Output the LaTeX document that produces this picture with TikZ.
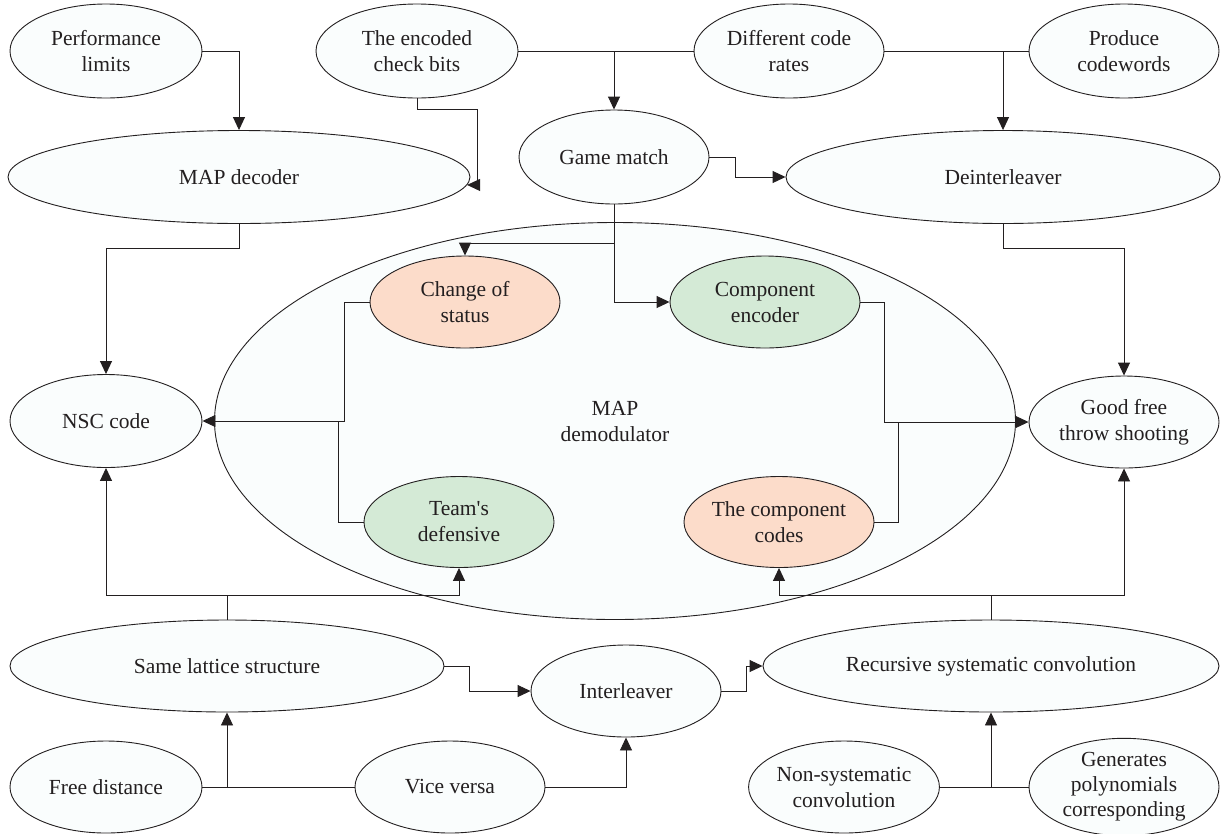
\documentclass[tikz,border=0pt]{standalone}
\usepackage{fontspec}
\setmainfont{Liberation Serif}
\usetikzlibrary{arrows.meta,calc,shapes.geometric}
\definecolor{ink}{HTML}{231F20}
\definecolor{paper}{HTML}{FAFDFD}
\definecolor{peach}{HTML}{FCDCCA}
\definecolor{mint}{HTML}{D4EAD6}
\tikzset{
  oval/.style={ellipse, draw=ink, line width=0.9pt, fill=paper, inner sep=0pt,
    align=center, text=ink, font=\fontsize{21.5}{26}\selectfont},
  ovalpeach/.style={oval, fill=peach},
  ovalmint/.style={oval, fill=mint},
  wire/.style={draw=ink, line width=0.9pt},
  arr/.style={wire, -{Triangle[length=13pt,width=12pt]}},
}
\begin{document}
\begin{tikzpicture}[x=1pt,y=-1pt]
\useasboundingbox (0,0) rectangle (1222,833);

% big container
\node[oval, minimum width=801pt, minimum height=397pt] (demod) at (615,421) {MAP\\demodulator};

% top row
\node[oval, minimum width=192pt, minimum height=94pt] (perf) at (106,51) {Performance\\limits};
\node[oval, minimum width=202pt, minimum height=94pt] (check) at (417,51) {The encoded\\check bits};
\node[oval, minimum width=190pt, minimum height=94pt] (rates) at (789,51) {Different code\\rates};
\node[oval, minimum width=190pt, minimum height=94pt] (produce) at (1124,51) {Produce\\codewords};

% second row
\node[oval, minimum width=462pt, minimum height=93pt] (mapdec) at (239,177) {MAP decoder};
\node[oval, minimum width=190pt, minimum height=94pt] (game) at (614,157) {Game match};
\node[oval, minimum width=434pt, minimum height=93pt] (deint) at (1003,177) {Deinterleaver};

% inside the container
\node[ovalpeach, minimum width=190pt, minimum height=92pt] (change) at (465,302) {Change of\\status};
\node[ovalmint, minimum width=190pt, minimum height=92pt] (compenc) at (765,302) {Component\\encoder};
\node[ovalmint, minimum width=190pt, minimum height=91pt] (team) at (459,522) {Team\textquotesingle s\\defensive};
\node[ovalpeach, minimum width=190pt, minimum height=91pt] (codes) at (779,522) {The component\\codes};

% middle sides
\node[oval, minimum width=192pt, minimum height=93pt] (nsc) at (106,421) {NSC code};
\node[oval, minimum width=190pt, minimum height=92pt] (good) at (1124,422) {Good free\\throw shooting};

% lower rows
\node[oval, minimum width=434pt, minimum height=92pt] (lattice) at (227,666) {Same lattice structure};
\node[oval, minimum width=190pt, minimum height=92pt] (inter) at (626,691) {Interleaver};
\node[oval, minimum width=456pt, minimum height=92pt] (rsc) at (991,666) {Recursive systematic convolution};
\node[oval, minimum width=192pt, minimum height=92pt] (free) at (106,787) {Free distance};
\node[oval, minimum width=190pt, minimum height=92pt] (vice) at (450,787) {Vice versa};
\node[oval, minimum width=190pt, minimum height=92pt] (nonsys) at (844,787) {Non-systematic\\convolution};
\node[oval, minimum width=190pt, minimum height=92pt, font=\fontsize{21.5}{25}\selectfont] (gen) at (1124,787) {Generates\\polynomials\\corresponding};

% connectors, top part
\draw[arr] (perf.east) -| (mapdec.north);
\draw[arr] (check.south) -- ++(0,11) -| ([xshift=10pt]mapdec.-2) -- (mapdec.-2);
\draw[wire] (check.east) -- (rates.west);
\draw[arr] (check.east -| game.north) -- (game.north);
\draw[wire] (rates.east) -- (produce.west);
\draw[arr] (rates.east -| deint.north) -- (deint.north);
\draw[arr] (game.east) -- ++(26,0) |- (deint.west);
\draw[arr] (mapdec.south) -- ++(0,24) -| (nsc.north);
\draw[arr] (deint.south) -- ++(0,24) -| (good.north);

% connectors through the container
\draw[arr] (game.south) |- (compenc.west);
\coordinate (g1) at ($(game.south)+(0,39)$);
\draw[arr] (g1) -| (change.north);
\draw[arr] (change.west) -- ++(-25,0) |- (nsc.east);
\draw[wire] (team.west) -- ++(-25,0) coordinate (t1) -- (t1 |- nsc.east);
\draw[arr] (compenc.east) -- ++(24,0) |- (good.west);
\draw[wire] (codes.east) -- ++(24,0) coordinate (t2) -- (t2 |- good.west);

% connectors, bottom part
\draw[wire] (lattice.north) -- ++(0,-24) coordinate (l1);
\draw[arr] (l1) -| (nsc.south);
\draw[arr] (l1) -| (team.south);
\draw[wire] (rsc.north) -- ++(0,-24) coordinate (r1);
\draw[arr] (r1) -| (codes.south);
\draw[arr] (r1) -| (good.south);
\draw[arr] (lattice.east) -- ++(25,0) |- (inter.west);
\draw[arr] (inter.east) -- ++(25,0) |- (rsc.west);
\draw[wire] (free.east) -- (vice.west);
\draw[arr] (free.east -| lattice.south) -- (lattice.south);
\draw[arr] (vice.east) -| (inter.south);
\draw[wire] (nonsys.east) -- (gen.west);
\draw[arr] (nonsys.east -| rsc.south) -- (rsc.south);
\end{tikzpicture}
\end{document}
